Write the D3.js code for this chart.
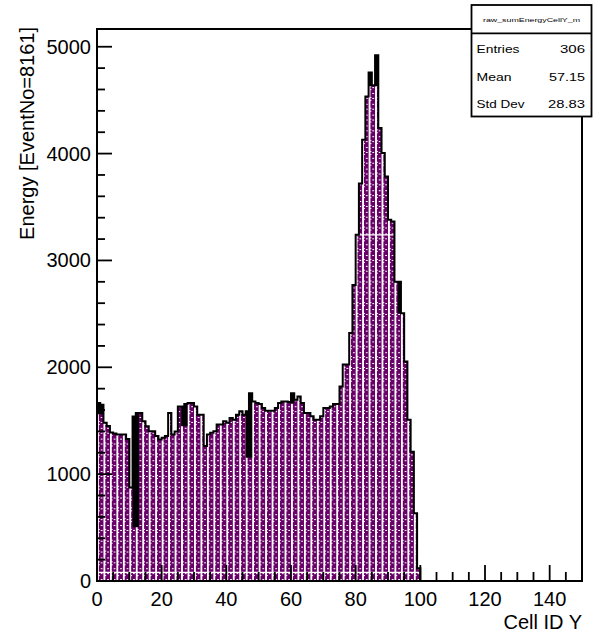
<!DOCTYPE html>
<html>
<head>
<meta charset="utf-8">
<script src="https://cdn.jsdelivr.net/npm/d3@7"></script>
<style>
  html, body { margin: 0; padding: 0; background: #fff; }
  svg { display: block; font-family: "Liberation Sans", Arial, Helvetica, sans-serif; }
</style>
</head>
<body>
<svg id="chart" width="604" height="636"></svg>
<script>
// Energy deposited per Cell ID Y bin (bins 0..99, unit width); bins 100..149 are empty
const energy = [
  1560, 1560, 1480, 1450, 1390, 1380, 1370, 1370, 1370, 1330,
   876,  504,  504, 1572, 1495, 1448, 1402, 1402, 1356, 1325,
  1340, 1356, 1572, 1371, 1400, 1634, 1448, 1448, 1665, 1665,
  1634, 1557, 1557, 1263, 1371, 1387, 1402, 1464, 1464, 1495,
  1480, 1526, 1510, 1557, 1588, 1557, 1154, 1154, 1681, 1665,
  1656, 1618, 1594, 1594, 1594, 1618, 1665, 1681, 1681, 1675,
  1660, 1696, 1727, 1665, 1572, 1572, 1541, 1510, 1510, 1541,
  1618, 1618, 1634, 1656, 1656, 1820, 2025, 2025, 2320, 2770,
  3240, 3720, 4130, 4535, 4630, 4640, 4630, 4240, 4005, 3785,
  3380, 3365, 2800, 2505, 2505, 2055, 1510, 1210,  635,  120
];
// Narrow sub-bin maxima that rise above the bin content
const peakBins   = [0,    1,    11,   12,   26,   27,   46,   47,   60,   84,   86,   93];
const peakValues = [1665, 1650, 1540, 1572, 1634, 1656, 1588, 1758, 1758, 4760, 4920, 2800];

const nBins = 150;
const xTicks = [0, 20, 40, 60, 80, 100, 120, 140];
const yTicks = [0, 1000, 2000, 3000, 4000, 5000];
const statNames  = ["Entries", "Mean", "Std Dev"];
const statValues = ["306", "57.15", "28.83"];
const histName = "raw_sumEnergyCellY_m";
const xTitle = "Cell ID Y";
const yTitle = "Energy [EventNo=8161]";

const svg = d3.select("#chart");
const frame = { l: 97, r: 582, t: 29, b: 581 };

const x = d3.scaleLinear().domain([0, nBins]).range([frame.l, frame.r]);
const y = d3.scaleLinear().domain([0, 5166]).range([frame.b, frame.t]);

const contents = d3.range(nBins).map(i => energy[i] || 0);
const envelope = contents.slice();
peakBins.forEach((b, k) => { envelope[b] = Math.max(envelope[b], peakValues[k]); });

function stepPoints(vals) {
  const pts = [[x(0), y(0)]];
  vals.forEach((v, i) => { pts.push([x(i), y(v)]); pts.push([x(i + 1), y(v)]); });
  pts.push([x(vals.length), y(0)]);
  return pts;
}
const line = d3.line();

// ROOT-like fill pattern: purple with white stripes and dashes
const defs = svg.append("defs");
const pw = x(2) - x(0), ph = 10.8;
const pat = defs.append("pattern")
  .attr("id", "hatch").attr("patternUnits", "userSpaceOnUse")
  .attr("x", x(0)).attr("y", frame.b)
  .attr("width", pw).attr("height", ph);
pat.append("rect").attr("width", pw).attr("height", ph).attr("fill", "#680068");
pat.append("rect").attr("x", 0).attr("y", 0).attr("width", 1.4).attr("height", ph)
  .attr("fill", "#ffffff").attr("shape-rendering", "crispEdges");
[[1.4, 2.0, 1.8], [1.4, 4.6, 1.8], [4.0, 3.3, 1.4], [4.0, 8.6, 1.4]].forEach(([dx, dy, w]) => {
  pat.append("rect").attr("x", dx).attr("y", dy).attr("width", w).attr("height", 1)
    .attr("fill", "#ffffff").attr("shape-rendering", "crispEdges");
});

defs.append("clipPath").attr("id", "histClip")
  .append("path").attr("d", line(stepPoints(contents)) + "Z");

// histogram: dark envelope, patterned body, seams, outline
svg.append("path").attr("d", line(stepPoints(envelope)) + "Z").attr("fill", "#000");
svg.append("path").attr("d", line(stepPoints(contents)) + "Z").attr("fill", "url(#hatch)");
svg.append("g").attr("clip-path", "url(#histClip)")
  .selectAll("line").data([80, 3240]).join("line")
  .attr("x1", frame.l).attr("x2", frame.r)
  .attr("y1", d => y(d)).attr("y2", d => y(d))
  .attr("stroke", "#fff").attr("stroke-width", 1.2);
svg.append("path").attr("d", line(stepPoints(envelope)))
  .attr("fill", "none").attr("stroke", "#000").attr("stroke-width", 2)
  .attr("stroke-linejoin", "miter");

// frame
svg.append("rect")
  .attr("x", frame.l).attr("y", frame.t)
  .attr("width", frame.r - frame.l).attr("height", frame.b - frame.t)
  .attr("fill", "none").attr("stroke", "#000").attr("stroke-width", 2);

// y axis ticks and labels
const yMinor = d3.range(0, 5166, 200);
svg.append("g").selectAll("line").data(yMinor).join("line")
  .attr("x1", frame.l).attr("x2", d => frame.l + (d % 1000 === 0 ? 15 : 8))
  .attr("y1", d => y(d)).attr("y2", d => y(d))
  .attr("stroke", "#000").attr("stroke-width", 1.8);
svg.append("g").selectAll("text").data(yTicks).join("text")
  .attr("x", 91).attr("y", d => y(d) + 7)
  .attr("text-anchor", "end").attr("font-size", 20).attr("fill", "#000")
  .text(d => d);

// x axis ticks and labels
const xMinor = d3.range(0, nBins + 0.1, 5);
svg.append("g").selectAll("line").data(xMinor).join("line")
  .attr("x1", d => x(d)).attr("x2", d => x(d))
  .attr("y1", frame.b).attr("y2", d => frame.b - (d % 20 === 0 ? 16 : 9))
  .attr("stroke", "#000").attr("stroke-width", 1.8);
svg.append("g").selectAll("text").data(xTicks).join("text")
  .attr("x", d => x(d)).attr("y", 606)
  .attr("text-anchor", "middle").attr("font-size", 20).attr("fill", "#000")
  .text(d => d);

// axis titles
svg.append("text").attr("x", frame.r).attr("y", 629)
  .attr("text-anchor", "end").attr("font-size", 20).attr("fill", "#000")
  .text(xTitle);
svg.append("text").attr("transform", "translate(34,27) rotate(-90)")
  .attr("text-anchor", "end").attr("font-size", 20).attr("fill", "#000")
  .text(yTitle);

// statistics box
const box = { l: 471.5, r: 591.5, t: 5, b: 116.5, sep: 33.3 };
svg.append("rect").attr("x", box.l).attr("y", box.t)
  .attr("width", box.r - box.l).attr("height", box.b - box.t)
  .attr("fill", "#fff").attr("stroke", "#000").attr("stroke-width", 1.8);
svg.append("line").attr("x1", box.l).attr("x2", box.r)
  .attr("y1", box.sep).attr("y2", box.sep)
  .attr("stroke", "#000").attr("stroke-width", 1.8);
svg.append("text").attr("x", (box.l + box.r) / 2).attr("y", 21.5)
  .attr("text-anchor", "middle").attr("font-size", 6).attr("fill", "#000")
  .attr("textLength", 97).attr("lengthAdjust", "spacingAndGlyphs")
  .text(histName);
const rowY = [53, 81, 107.5];
const nameW = [43, 35, 48];
const valW = [25, 36, 37];
svg.append("g").selectAll("text").data(statNames).join("text")
  .attr("x", 476.5).attr("y", (d, i) => rowY[i])
  .attr("font-size", 11.5).attr("fill", "#000")
  .attr("textLength", (d, i) => nameW[i]).attr("lengthAdjust", "spacingAndGlyphs")
  .text(d => d);
svg.append("g").selectAll("text").data(statValues).join("text")
  .attr("x", (d, i) => 585 - valW[i]).attr("y", (d, i) => rowY[i])
  .attr("font-size", 11.5).attr("fill", "#000")
  .attr("textLength", (d, i) => valW[i]).attr("lengthAdjust", "spacingAndGlyphs")
  .text(d => d);
</script>
</body>
</html>
